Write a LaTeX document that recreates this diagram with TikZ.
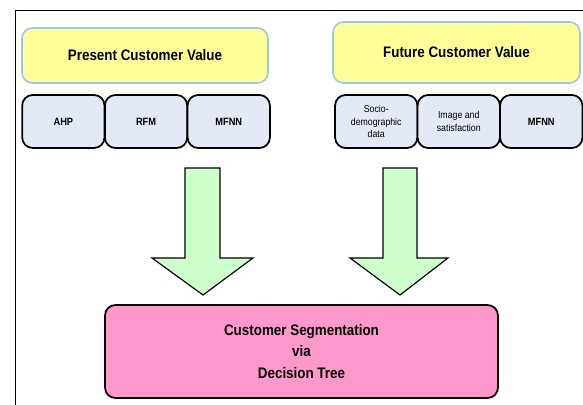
\documentclass[tikz,border=0pt]{standalone}
\usepackage{fontspec}
\setmainfont{Liberation Sans}[FakeStretch=0.88]
\definecolor{valyellow}{RGB}{255,255,153}
\definecolor{valedge}{RGB}{160,196,230}
\definecolor{methblue}{RGB}{228,233,246}
\definecolor{arrgreen}{RGB}{204,255,204}
\definecolor{segpink}{RGB}{255,153,204}
\begin{document}
\begin{tikzpicture}[x=0.03cm,y=-0.03cm,
  valuebox/.style={draw=valedge, line width=1.3pt, fill=valyellow, rounded corners=9pt,
    minimum width=7.38cm, inner sep=0pt, font=\fontsize{13}{15}\selectfont\bfseries},
  methbox/.style={draw=black, line width=1.5pt, fill=methblue, rounded corners=9pt,
    minimum width=2.47cm, minimum height=1.59cm, inner sep=0pt, align=center},
  blockarrow/.style={draw=black, line width=1pt, fill=arrgreen, line join=miter},
  segbox/.style={draw=black, line width=1.5pt, fill=segpink, rounded corners=9pt,
    minimum width=11.79cm, minimum height=2.79cm, inner sep=0pt, align=center,
    font=\fontsize{13}{18}\selectfont\bfseries}]
\useasboundingbox (0,0) rectangle (583,405);
\draw[line width=0.8pt] (15,405) -- (15,10) -- (583,10);
% value boxes
\node[valuebox, minimum height=1.65cm] (pcv) at (145,55.5) {Present Customer Value};
\node[valuebox, minimum height=1.83cm, minimum width=7.41cm] (fcv) at (456.5,52.5) {Future Customer Value};
% method boxes
\foreach \lbl [count=\i] in {AHP,RFM,MFNN}
{
	\node[methbox, font=\fontsize{9}{11}\selectfont\bfseries] (p\i) at (22+82.7*\i-41.35,121.5) {\lbl};
}
\node[methbox, font=\fontsize{8.5}{10.5}\selectfont] (f1) at (376.25,121.5) {Socio-\\demographic\\data};
\node[methbox, font=\fontsize{8.5}{10.5}\selectfont] (f2) at (458.75,121.5) {Image and\\satisfaction};
\node[methbox, font=\fontsize{9}{11}\selectfont\bfseries] (f3) at (541.25,121.5) {MFNN};
% arrows
\draw[blockarrow] (185,168) -- (220,168) -- (220,258) -- (253,258) -- (203,295)
	-- (152,258) -- (185,258) -- cycle;
\draw[blockarrow] (383,168) -- (417,168) -- (417,258) -- (448,258) -- (400,295)
	-- (350,258) -- (383,258) -- cycle;
% segmentation
\node[segbox] (seg) at (301.5,351.5) {Customer Segmentation\\via\\Decision Tree};
\end{tikzpicture}
\end{document}
